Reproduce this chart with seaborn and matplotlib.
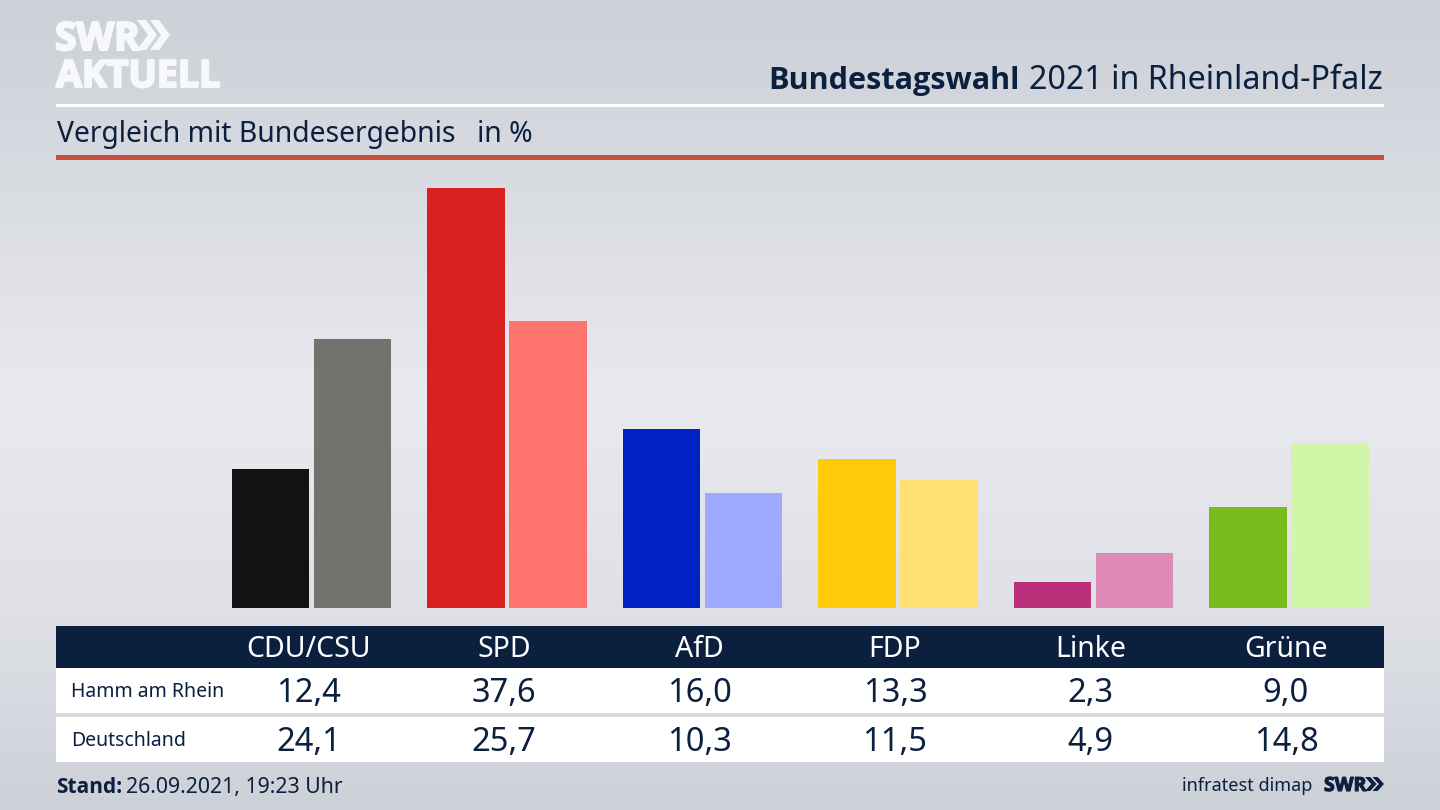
import matplotlib
matplotlib.use("Agg")
import matplotlib.pyplot as plt
import matplotlib.patheffects as pe
from matplotlib.patches import Polygon, Rectangle
import numpy as np
import pandas as pd
import seaborn as sns

parties = ["CDU/CSU", "SPD", "AfD", "FDP", "Linke", "Grüne"]
hamm = [12.4, 37.6, 16.0, 13.3, 2.3, 9.0]
deutschland = [24.1, 25.7, 10.3, 11.5, 4.9, 14.8]
hamm_labels = ["12,4", "37,6", "16,0", "13,3", "2,3", "9,0"]
deutschland_labels = ["24,1", "25,7", "10,3", "11,5", "4,9", "14,8"]
hamm_colors = ["#121212", "#d8201e", "#0022c4", "#ffcc0a", "#bc2f7a", "#79bd1c"]
deutschland_colors = ["#74726f", "#ff736d", "#9eaaff", "#ffe072", "#e08ab8", "#d2f6a8"]

NAVY = "#0b1f3f"
W, H = 1440, 810

sns.set_theme(style="white")
plt.rcParams["font.family"] = ["Noto Sans", "DejaVu Sans"]

fig = plt.figure(figsize=(W / 100, H / 100), dpi=100)

# background layer in pixel coordinates
bg = fig.add_axes([0, 0, 1, 1])
bg.set_xlim(0, W)
bg.set_ylim(H, 0)
bg.axis("off")
stops_y = [0, 130, 400, 620, 810]
stops_v = [0.0, 0.30, 1.0, 0.62, 0.0]
grad = np.interp(np.arange(H), stops_y, stops_v)
low, high = np.array([204, 208, 215]), np.array([233, 234, 239])
img = low + (high - low) * grad[:, None]
bg.imshow(img[:, None, :].astype(np.uint8), extent=[0, W, H, 0], aspect="auto", zorder=0)


def chevrons(x, y, h, w, color):
    # two arrow heads of the SWR logo
    for off in (0, w * 0.65):
        d = w * 0.45
        pts = [(x + off, y), (x + off + d, y), (x + off + w, y + h / 2),
               (x + off + d, y + h), (x + off, y + h), (x + off + w - d, y + h / 2)]
        bg.add_patch(Polygon(pts, closed=True, fc=color, ec="none", zorder=3))


logo_stroke = [pe.withStroke(linewidth=1.6, foreground="#f7f8f9")]
bg.text(55, 50, "SWR", color="#f7f8f9", fontsize=28, fontweight="bold", family="Open Sans",
        va="baseline", ha="left", path_effects=logo_stroke)
chevrons(137, 20, 30, 20, "#f7f8f9")
bg.text(56, 87, "AKTUELL", color="#f7f8f9", fontsize=27, fontweight="bold", family="Open Sans",
        va="baseline", ha="left", path_effects=logo_stroke)

# title
bg.text(1383, 89, "2021 in Rheinland-Pfalz", color=NAVY, fontsize=23.2, ha="right", va="baseline")
bg.text(1020, 89, "Bundestagswahl", color=NAVY, fontsize=22.1, fontweight="bold", family="Open Sans",
        ha="right", va="baseline")
bg.add_patch(Rectangle((56, 104), 1328, 3, fc="white", ec="none", zorder=2))
bg.text(57, 142, "Vergleich mit Bundesergebnis", color=NAVY, fontsize=20.4, va="baseline")
bg.text(477, 142, "in %", color=NAVY, fontsize=20.4, va="baseline")
bg.add_patch(Rectangle((56, 155), 1328, 5, fc="#c8503c", ec="none", zorder=2))

# table below the bars
bg.add_patch(Rectangle((56, 626), 1328, 42, fc=NAVY, ec="none", zorder=2))
bg.add_patch(Rectangle((56, 668), 1328, 45, fc="white", ec="none", zorder=2))
bg.add_patch(Rectangle((56, 713), 1328, 4, fc="#d9dadd", ec="none", zorder=2))
bg.add_patch(Rectangle((56, 717), 1328, 45, fc="white", ec="none", zorder=2))

bg.text(71, 697, "Hamm am Rhein", color=NAVY, fontsize=14, va="baseline", zorder=4)
bg.text(71, 746, "Deutschland", color=NAVY, fontsize=14, va="baseline", zorder=4)

centers = np.linspace(308.5, 1286, len(parties))
for cx, party, a, b in zip(centers, parties, hamm_labels, deutschland_labels):
    bg.text(cx, 657, party, color="white", fontsize=20.5, ha="center", va="baseline", zorder=4)
    bg.text(cx, 702, a, color=NAVY, fontsize=23.5, ha="center", va="baseline", zorder=4)
    bg.text(cx, 751, b, color=NAVY, fontsize=23.5, ha="center", va="baseline", zorder=4)

# footer
bg.text(56, 793, "Stand:", color=NAVY, fontsize=15, fontweight="bold", family="Open Sans", va="baseline")
bg.text(126, 793, "26.09.2021, 19:23 Uhr", color=NAVY, fontsize=15.3, va="baseline")
bg.text(1312, 791, "infratest dimap", color=NAVY, fontsize=13, ha="right", va="baseline")
bg.text(1324, 791, "SWR", color=NAVY, fontsize=14, fontweight="bold", family="Open Sans", va="baseline",
        path_effects=[pe.withStroke(linewidth=0.8, foreground=NAVY)])
chevrons(1365, 777, 14, 11.5, NAVY)

# bars
df = pd.DataFrame({
    "Partei": parties * 2,
    "Gebiet": ["Hamm am Rhein"] * 6 + ["Deutschland"] * 6,
    "Prozent": hamm + deutschland,
})
ax_left, ax_width = centers[0] - 97.75 + 3, 195.5 * 6
ax = fig.add_axes([ax_left / W, (H - 608) / H, ax_width / W, 448 / H])
ax.patch.set_alpha(0)
sns.barplot(data=df, x="Partei", y="Prozent", hue="Gebiet", order=parties,
            hue_order=["Hamm am Rhein", "Deutschland"], width=0.84, gap=0.06,
            saturation=1, legend=False, ax=ax)
for bars, colors in zip(ax.containers, [hamm_colors, deutschland_colors]):
    for patch, color in zip(bars, colors):
        patch.set_facecolor(color)
        patch.set_edgecolor("none")
ax.set_xlim(-0.5, 5.5)
ax.set_ylim(0, 40.1)
ax.axis("off")

fig.savefig("out.png", dpi=100)
